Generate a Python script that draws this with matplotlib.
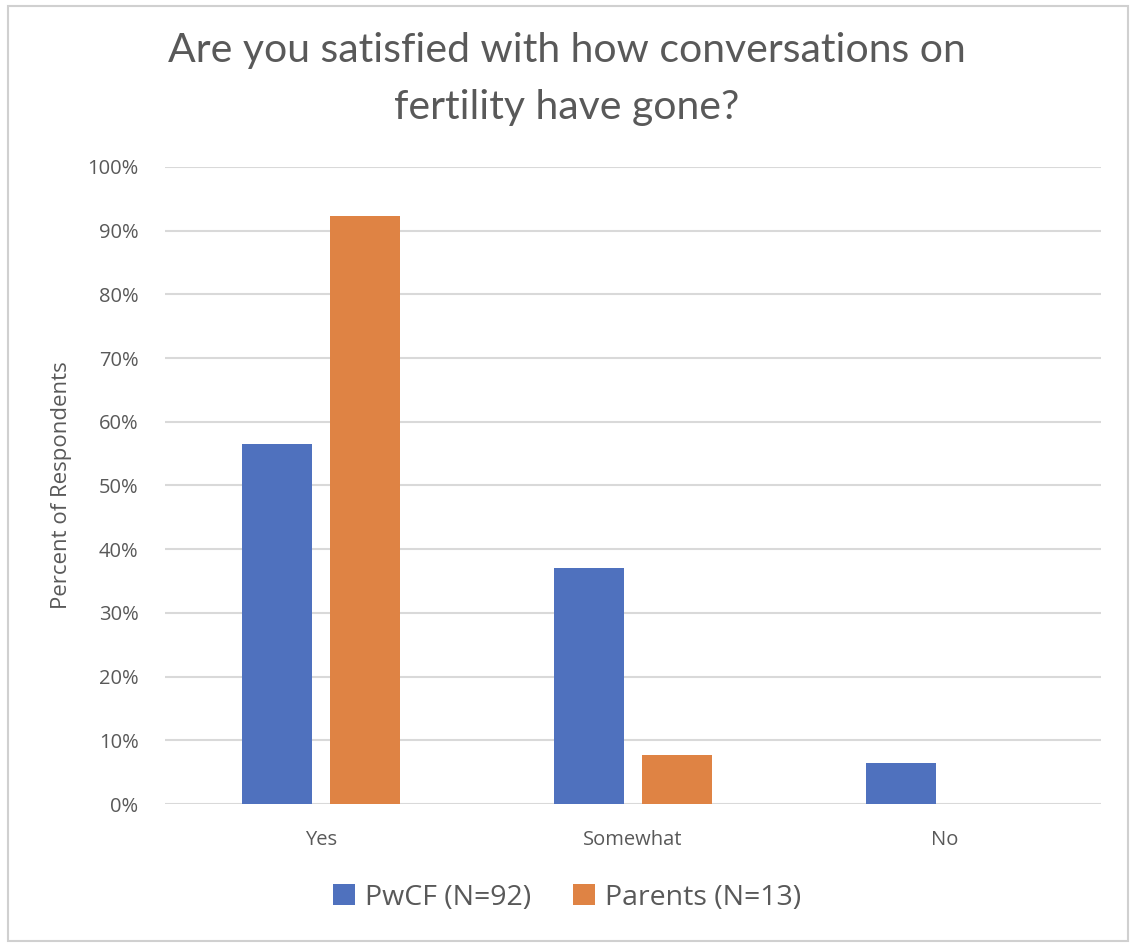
import matplotlib
matplotlib.use("Agg")
import matplotlib.pyplot as plt
import numpy as np
from matplotlib.ticker import PercentFormatter

categories = ["Yes", "Somewhat", "No"]
pwcf = [56.5, 37.0, 6.5]
parents = [92.3, 7.7, 0.0]
series_names = ["PwCF (N=92)", "Parents (N=13)"]

plt.rcParams['font.family'] = ['Open Sans', 'DejaVu Sans']
text_grey = '#595959'

fig = plt.figure(figsize=(11.34, 9.47), dpi=100, facecolor='white')
ax = fig.add_axes([0.1455, 0.151, 0.825, 0.6727])

x = np.arange(len(categories))
w = 0.225
ax.bar(x - 0.141, pwcf, width=w, color='#4F71BE', label=series_names[0], zorder=3)
ax.bar(x + 0.141, parents, width=w, color='#DF8344', label=series_names[1], zorder=3)

ax.set_xlim(-0.5, 2.5)
ax.set_ylim(0, 100)
ax.set_yticks(range(0, 101, 10))
ax.yaxis.set_major_formatter(PercentFormatter(decimals=0))
ax.set_xticks(x)
ax.set_xticklabels(categories)
ax.grid(axis='y', color='#D9D9D9', linewidth=1.5, zorder=0)
for s in ax.spines.values():
    s.set_visible(False)
ax.tick_params(axis='both', length=0, labelsize=14.5, colors=text_grey)
ax.tick_params(axis='x', pad=19)
ax.tick_params(axis='y', pad=19)

ax.set_ylabel("Percent of Respondents", fontsize=16, color=text_grey, labelpad=11)

fig.text(0.5, 0.947, "Are you satisfied with how conversations on", ha='center', va='center',
         fontsize=29.5, color=text_grey, family=['Lato', 'DejaVu Sans'])
fig.text(0.5, 0.886, "fertility have gone?", ha='center', va='center',
         fontsize=29.5, color=text_grey, family=['Lato', 'DejaVu Sans'])

fig.legend(loc='center', bbox_to_anchor=(0.5, 0.052), ncol=2, frameon=False,
           fontsize=20.5, labelcolor=text_grey, handlelength=0.75, handleheight=0.75,
           handletextpad=0.35, columnspacing=1.5)

# chart border
fig.patches.append(plt.Rectangle((0.007, 0.006), 0.988, 0.988, transform=fig.transFigure,
                                 fill=False, edgecolor='#D0D0D0', linewidth=1.5))

fig.savefig("out.png", dpi=100, facecolor='white')
